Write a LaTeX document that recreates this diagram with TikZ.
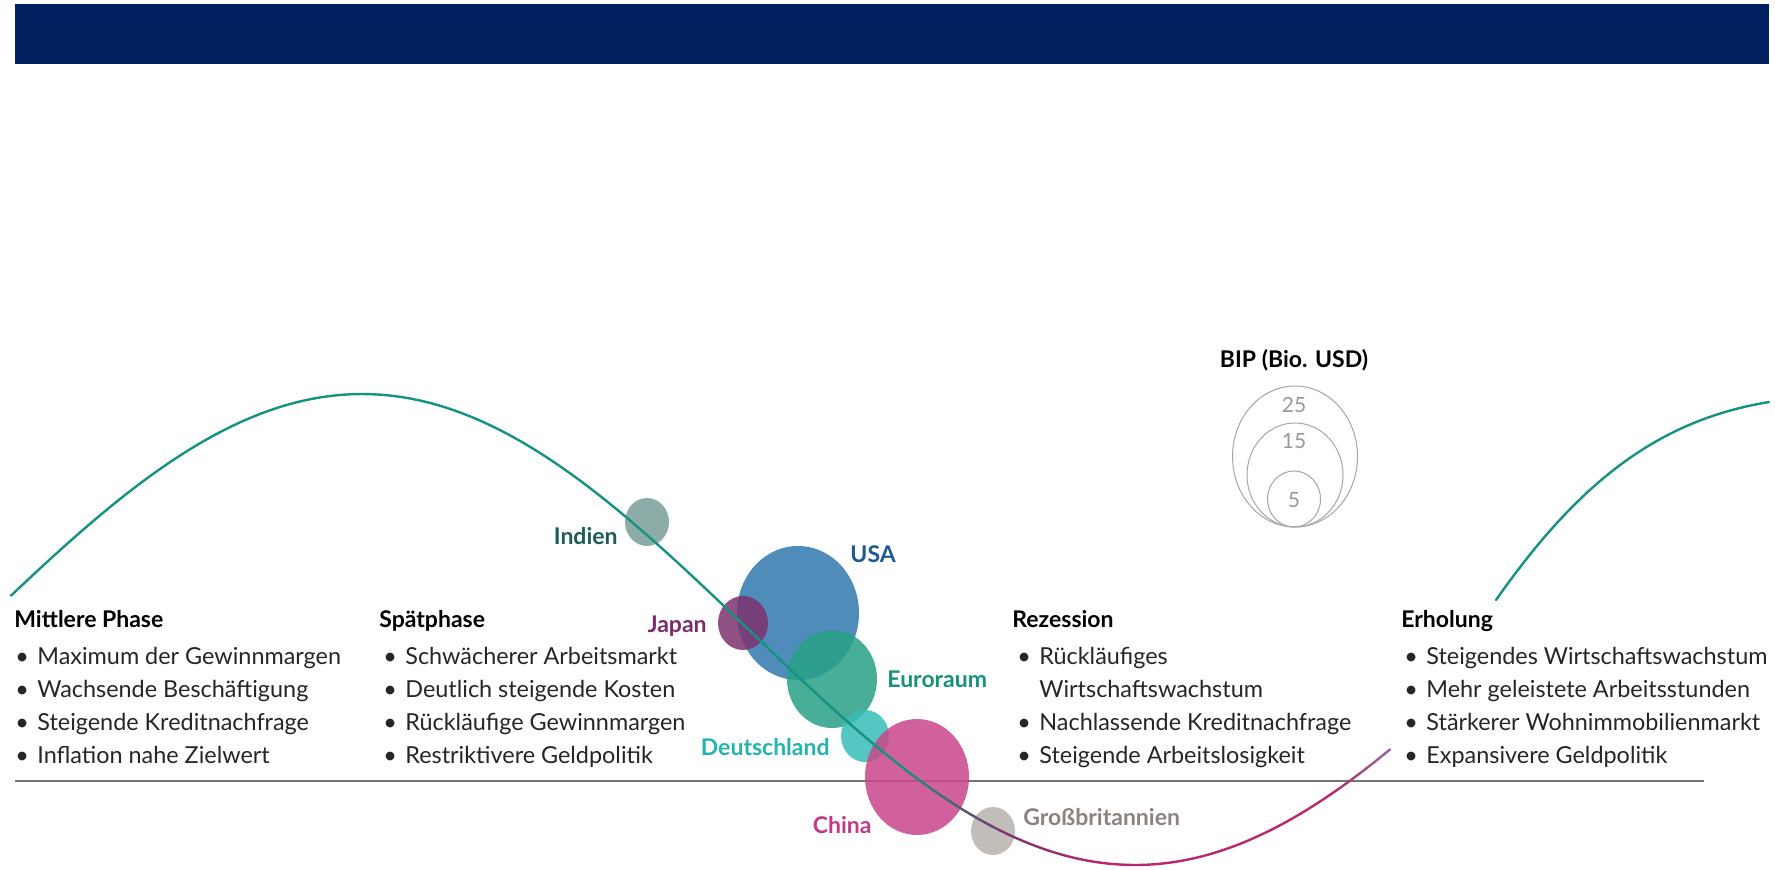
\documentclass[tikz,border=0pt]{standalone}
\usepackage{fontspec}
\setmainfont{Lato}

\definecolor{bannerblue}{RGB}{0,32,96}
\definecolor{cycteal}{RGB}{22,146,128}
\definecolor{cycpurple}{RGB}{120,55,115}
\definecolor{cycmagenta}{RGB}{185,40,110}
\definecolor{cycend}{RGB}{140,110,155}
\definecolor{indcol}{RGB}{122,158,153}
\definecolor{usacol}{RGB}{50,120,175}
\definecolor{jpncol}{RGB}{125,50,110}
\definecolor{eurcol}{RGB}{40,160,135}
\definecolor{decol}{RGB}{55,190,185}
\definecolor{chncol}{RGB}{200,70,140}
\definecolor{gbrcol}{RGB}{185,178,174}
\definecolor{indtext}{RGB}{30,92,87}
\definecolor{usatext}{RGB}{30,90,142}
\definecolor{jpntext}{RGB}{123,44,107}
\definecolor{eurtext}{RGB}{23,145,124}
\definecolor{detext}{RGB}{39,179,173}
\definecolor{chntext}{RGB}{194,58,134}
\definecolor{gbrtext}{RGB}{140,131,128}

\newcommand{\bul}{\makebox[11pt][l]{\textbullet}}

\begin{document}
\begin{tikzpicture}[x=0.5pt,y=-0.5pt,
  cyclecurve/.style={line width=1.2pt,line cap=round},
  gdp/.style={fill opacity=0.85},
  land/.style={inner sep=0pt,font=\fontsize{11.5}{14}\selectfont\bfseries},
  phasetitle/.style={anchor=base west,inner sep=0pt,font=\fontsize{11.5}{14}\selectfont\bfseries},
  phaselist/.style={anchor=north west,inner sep=0pt,align=left,text=black!85,
    font=\fontsize{11.7}{16.4}\selectfont,execute at begin node=\rule{0pt}{10pt}},
  legring/.style={draw=black!35,line width=0.5pt},
  legnum/.style={anchor=base,inner sep=0pt,text=black!40,font=\fontsize{10.5}{12}\selectfont},
  declare function={cyc(\x)=629.5-235.5*cos((\x-362)/773*180);}]

\useasboundingbox (0,0) rectangle (1775,870);
\fill[white] (0,0) rectangle (1775,870);

% top bar
\fill[bannerblue] (15,4) rectangle (1769,64);

% zero line
\draw[black!55,line width=0.8pt] (15,781) -- (1704,781);

% GDP bubbles
\fill[gdp,indcol] (647,522) ellipse [x radius=22,y radius=24];
\fill[gdp,usacol] (798,613) ellipse [x radius=61,y radius=67];
\fill[gdp,jpncol] (743,623) ellipse [x radius=25,y radius=27];
\fill[gdp,eurcol] (832,679) ellipse [x radius=45,y radius=49];
\fill[gdp,decol] (865,736) ellipse [x radius=24,y radius=26];
\fill[gdp,chncol] (917,777) ellipse [x radius=52,y radius=58];
\fill[gdp,gbrcol] (993,831) ellipse [x radius=22,y radius=24];

% the cycle
\draw[cyclecurve,cycteal] plot[domain=11:900,samples=90] (\x,{cyc(\x)});
\foreach \a in {900,910,...,990}{
  \pgfmathtruncatemacro\p{\a-900}
  \draw[cyclecurve,cycpurple!\p!cycteal] plot[domain=\a:\a+10,samples=3] (\x,{cyc(\x)});
}
\foreach \a in {1000,1010,...,1090}{
  \pgfmathtruncatemacro\p{\a-1000}
  \draw[cyclecurve,cycmagenta!\p!cycpurple] plot[domain=\a:\a+10,samples=3] (\x,{cyc(\x)});
}
\draw[cyclecurve,cycmagenta] plot[domain=1100:1330,samples=30] (\x,{cyc(\x)});
\foreach \a in {1330,1340,...,1380}{
  \pgfmathtruncatemacro\p{(\a-1330)*1.8}
  \draw[cyclecurve,cycend!\p!cycmagenta] plot[domain=\a:\a+10,samples=3] (\x,{cyc(\x)});
}
\draw[cyclecurve,cycteal] (1496,600) .. controls (1580,480) and (1660,420) .. (1769,402);

% country labels
\node[land,text=indtext,anchor=base east] (ind) at (618,545) {Indien};
\node[land,text=usatext,anchor=base west] (usa) at (850,562) {USA};
\node[land,text=jpntext,anchor=base east] (jpn) at (707,632) {Japan};
\node[land,text=eurtext,anchor=base west] (eur) at (887,687) {Euroraum};
\node[land,text=detext,anchor=base east] (de) at (830,755) {Deutschland};
\node[land,text=chntext,anchor=base east] (chn) at (872,833) {China};
\node[land,text=gbrtext,anchor=base west] (gbr) at (1023,825) {Großbritannien};

% legend
\node[land,anchor=base] (bip) at (1294,368) {BIP (Bio. USD)};
\draw[legring] (1295,456.5) ellipse [x radius=62.5,y radius=70.5];
\draw[legring] (1295,475) ellipse [x radius=48,y radius=52];
\draw[legring] (1294,499) ellipse [x radius=26.5,y radius=28];
\node[legnum] (l25) at (1294,413) {25};
\node[legnum] (l15) at (1294,449) {15};
\node[legnum] (l5) at (1294,508) {5};

% phases
\node[phasetitle] (midTitle) at (14,627) {Mittlere Phase};
\node[phaselist] (midList) at (15,647) {\bul Maximum der Gewinnmargen\\
  \bul Wachsende Beschäftigung\\ \bul Steigende Kreditnachfrage\\ \bul Inflation nahe Zielwert};

\node[phasetitle] (lateTitle) at (379,627) {Spätphase};
\node[phaselist] (lateList) at (383,647) {\bul Schwächerer Arbeitsmarkt\\
  \bul Deutlich steigende Kosten\\ \bul Rückläufige Gewinnmargen\\ \bul Restriktivere Geldpolitik};

\node[phasetitle] (recTitle) at (1012,627) {Rezession};
\node[phaselist] (recList) at (1017,647) {\bul Rückläufiges\\
  \hspace*{11pt}Wirtschaftswachstum\\ \bul Nachlassende Kreditnachfrage\\ \bul Steigende Arbeitslosigkeit};

\node[phasetitle] (recovTitle) at (1401,627) {Erholung};
\node[phaselist] (recovList) at (1404,647) {\bul Steigendes Wirtschaftswachstum\\
  \bul Mehr geleistete Arbeitsstunden\\ \bul Stärkerer Wohnimmobilienmarkt\\ \bul Expansivere Geldpolitik};

\end{tikzpicture}
\end{document}
